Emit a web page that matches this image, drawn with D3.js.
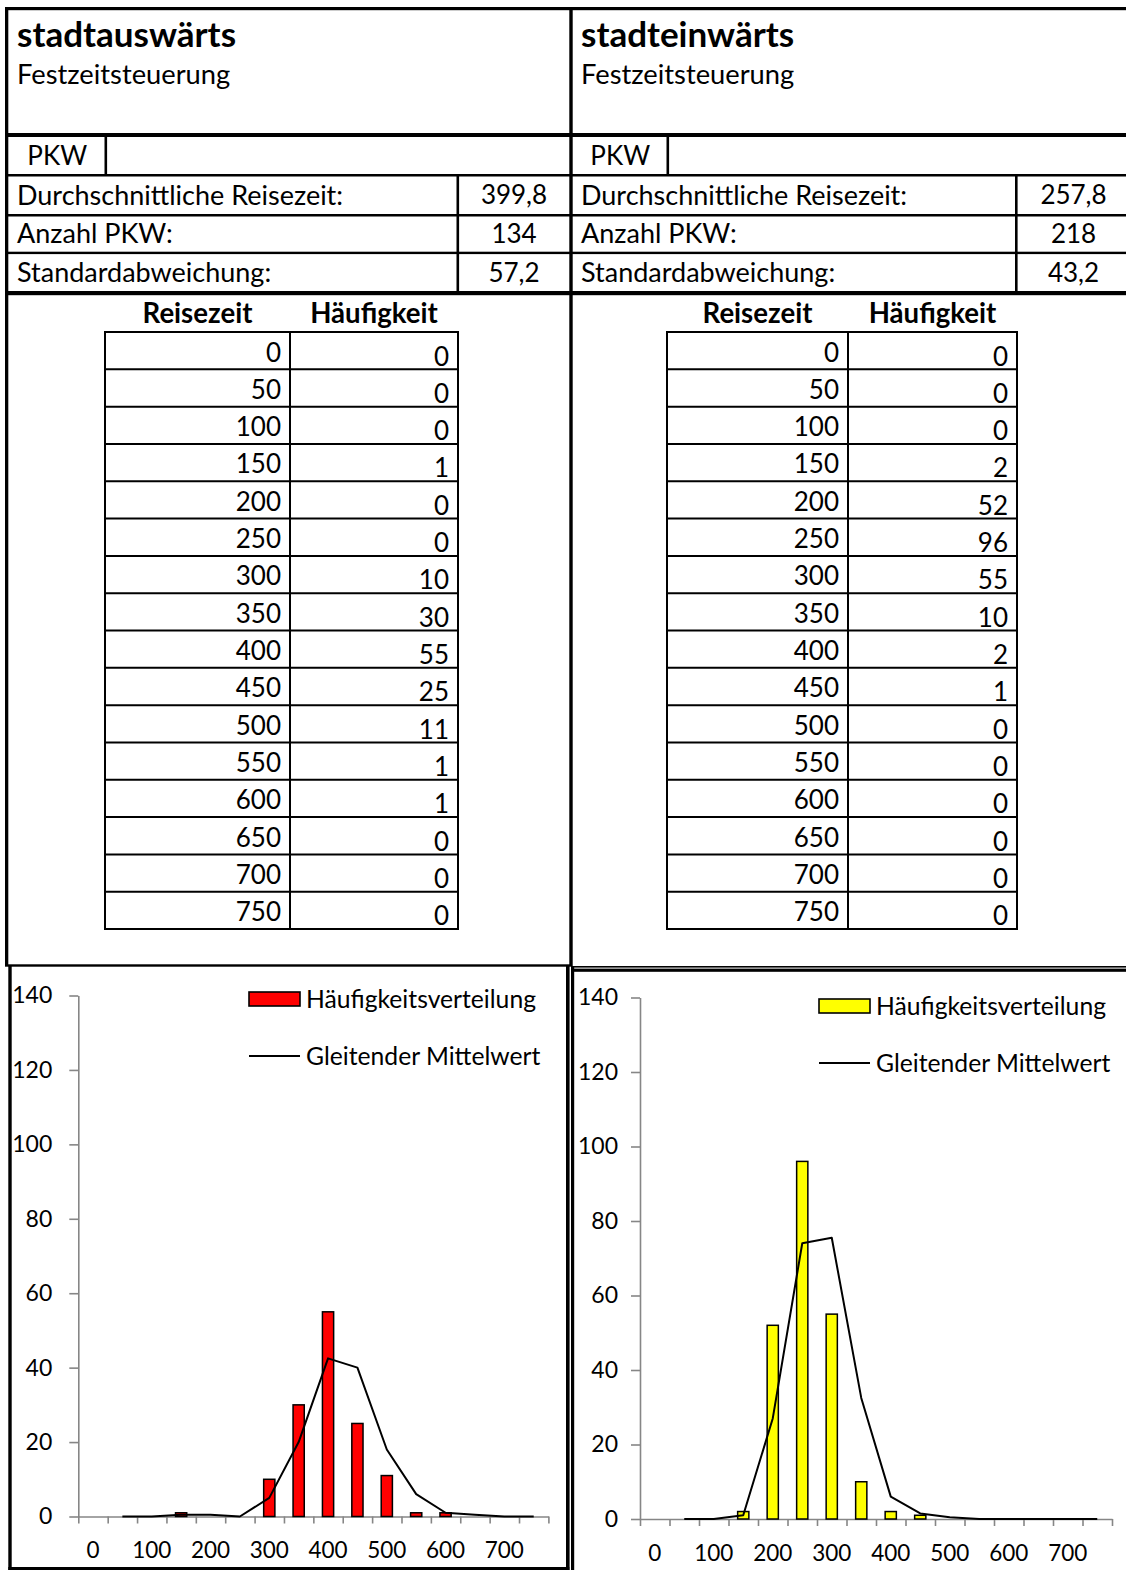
<!DOCTYPE html>
<html>
<head>
<meta charset="utf-8">
<script src="https://cdn.jsdelivr.net/npm/d3@7"></script>
<style>
  html, body { margin: 0; padding: 0; background: #fff; }
  svg { display: block; }
  text { font-family: Lato, "Open Sans", sans-serif; fill: #000; }
</style>
</head>
<body>
<svg id="sheet" width="1126" height="1570"></svg>
<script>
// ---- data -------------------------------------------------------------
const reisezeit = [0, 50, 100, 150, 200, 250, 300, 350, 400, 450, 500, 550, 600, 650, 700, 750];
const haeufigkeitAus = [0, 0, 0, 1, 0, 0, 10, 30, 55, 25, 11, 1, 1, 0, 0, 0];
const haeufigkeitEin = [0, 0, 0, 2, 52, 96, 55, 10, 2, 1, 0, 0, 0, 0, 0, 0];
// moving average over two classes (first class has none)
const mittelwertAus = [null, 0, 0, 0.5, 0.5, 0, 5, 20, 42.5, 40, 18, 6, 1, 0.5, 0, 0];
const mittelwertEin = [null, 0, 0, 1, 27, 74, 75.5, 32.5, 6, 1.5, 0.5, 0, 0, 0, 0, 0];

const titles = ["stadtauswärts", "stadteinwärts"];
const subtitle = "Festzeitsteuerung";
const fahrzeug = "PKW";
const statLabels = ["Durchschnittliche Reisezeit:", "Anzahl PKW:", "Standardabweichung:"];
const statsAus = ["399,8", "134", "57,2"];
const statsEin = ["257,8", "218", "43,2"];
const tableHeads = ["Reisezeit", "Häufigkeit"];
const legendLabels = ["Häufigkeitsverteilung", "Gleitender Mittelwert"];
const yTicks = [0, 20, 40, 60, 80, 100, 120, 140];
const xTickLabels = ["0", "100", "200", "300", "400", "500", "600", "700"];
const barColors = ["#ff0000", "#ffff00"];

// ---- layout -----------------------------------------------------------
const svg = d3.select("#sheet");
const FS = 27;            // body text size
const FN = 26;            // number size
const CAP = 0.72 * FS;    // cap height of body text
const CAPN = 0.72 * FN;

const panels = [
  { title: titles[0], stats: statsAus, freq: haeufigkeitAus, avg: mittelwertAus, color: barColors[0],
    textX: 17, pkwDiv: 104.5, valDiv: 456.5, valCenter: 514,
    tbl: [105, 290, 458],
    chart: { x0: 78.3, x1: 548.4, y0: 1516.5, yTop: 995.5, labelPad: 17,
             legX: 249, legY: 992, legLineY: 1056 } },
  { title: titles[1], stats: statsEin, freq: haeufigkeitEin, avg: mittelwertEin, color: barColors[1],
    textX: 581, pkwDiv: 666.5, valDiv: 1015, valCenter: 1073.5,
    tbl: [667, 848, 1017],
    chart: { x0: 640, x1: 1112, y0: 1519, yTop: 997.5, labelPad: 13,
             legX: 819, legY: 999, legLineY: 1063 } }
];

const frame = svg.append("g").attr("class", "frame");
function box(x, y, w, h, fill) {
  frame.append("rect").attr("x", x).attr("y", y).attr("width", w).attr("height", h)
    .attr("fill", fill || "#000");
}

// outer sheet lines
box(5, 7, 1121, 3.2);          // top
box(5, 7, 3.3, 959);           // left
box(569.3, 7, 3.4, 959);       // centre divider
box(5, 133, 1121, 4);          // below headings
box(5, 174, 1121, 2.5);        // below PKW row
box(5, 214, 1121, 2.5);
box(5, 251.7, 1121, 2.4);
box(5, 291, 1121, 4.2);        // below stats
box(5, 964.3, 566, 2.4);       // table block bottom (left)

// chart frames
box(8.3, 966, 3.4, 604);       // left chart, left edge
box(566, 966, 3.6, 604);       // left chart, right edge
box(8.3, 1567, 561, 3);        // left chart, bottom
box(571, 966, 3.2, 604);       // right chart, left edge
box(571, 966, 555, 1.6);       // right chart, top (double line)
box(571, 968.6, 555, 3.2);

// ---- panels -----------------------------------------------------------
panels.forEach(p => {
  const g = svg.append("g");

  // headings
  g.append("text").attr("x", p.textX).attr("y", 47)
    .style("font-size", "35px").style("font-weight", 700).text(p.title);
  g.append("text").attr("x", p.textX).attr("y", 84)
    .style("font-size", "27.3px").text(subtitle);

  // PKW row
  box(p.pkwDiv, 135, 2.6, 40);
  const pkwLeft = p.textX - 9;
  g.append("text").attr("x", (pkwLeft + p.pkwDiv) / 2 + 1).attr("y", 155.5 + CAPN / 2)
    .attr("text-anchor", "middle").style("font-size", FN + "px").text(fahrzeug);

  // stats rows
  box(p.valDiv, 175, 2.6, 118);
  const rowCenters = [195, 233.5, 272.5];
  statLabels.forEach((lab, i) => {
    g.append("text").attr("x", p.textX).attr("y", rowCenters[i] + CAP / 2)
      .style("font-size", FS + "px").text(lab);
    g.append("text").attr("x", p.valCenter).attr("y", rowCenters[i] + CAPN / 2)
      .attr("text-anchor", "middle").style("font-size", FN + "px").text(p.stats[i]);
  });

  // frequency table
  const [tL, tM, tR] = p.tbl;
  const rowY = d3.scaleLinear().domain([0, reisezeit.length]).range([332, 929]);
  g.append("text").attr("x", (tL + tM) / 2).attr("y", 313 + CAP / 2)
    .attr("text-anchor", "middle").style("font-size", "27.6px").style("font-weight", 700).text(tableHeads[0]);
  g.append("text").attr("x", (tM + tR) / 2).attr("y", 313 + CAP / 2)
    .attr("text-anchor", "middle").style("font-size", "27.6px").style("font-weight", 700).text(tableHeads[1]);

  const tg = g.append("g").attr("fill", "none").attr("stroke", "#000").attr("stroke-width", 2);
  d3.range(reisezeit.length + 1).forEach(i => {
    tg.append("line").attr("x1", tL - 1).attr("x2", tR + 1).attr("y1", rowY(i)).attr("y2", rowY(i));
  });
  [tL, tM, tR].forEach(x => {
    tg.append("line").attr("x1", x).attr("x2", x).attr("y1", rowY(0)).attr("y2", rowY(reisezeit.length));
  });
  reisezeit.forEach((v, i) => {
    const c = (rowY(i) + rowY(i + 1)) / 2;
    g.append("text").attr("x", tM - 9).attr("y", c + CAPN / 2 + 1.5)
      .attr("text-anchor", "end").style("font-size", FN + "px").text(v);
    g.append("text").attr("x", tR - 9).attr("y", c + CAPN / 2 + 5.5)
      .attr("text-anchor", "end").style("font-size", FN + "px").text(p.freq[i]);
  });

  // ---- histogram chart ----
  const c = p.chart;
  const x = d3.scaleBand().domain(reisezeit).range([c.x0, c.x1]);
  const xEdge = d3.scaleLinear().domain([0, reisezeit.length]).range([c.x0, c.x1]);
  const y = d3.scaleLinear().domain([0, 140]).range([c.y0, c.yTop]);
  const cg = g.append("g");
  const axisColor = "#868686";

  // y axis
  const ya = cg.append("g").attr("transform", `translate(${c.x0},0)`)
    .call(d3.axisLeft(y).tickValues(yTicks).tickSize(9).tickSizeOuter(0).tickPadding(c.labelPad));
  ya.selectAll("path,line").attr("stroke", axisColor).attr("stroke-width", 1.6);
  ya.selectAll("text").style("font-size", "23px").style("font-family", "Lato").attr("fill", "#000");

  // x axis: tick marks on class boundaries, labels on every second class
  const xa = cg.append("g").attr("transform", `translate(0,${c.y0})`)
    .call(d3.axisBottom(xEdge).tickValues(d3.range(reisezeit.length + 1)).tickSize(7).tickSizeOuter(0).tickFormat(""));
  xa.selectAll("path,line").attr("stroke", axisColor).attr("stroke-width", 1.6);
  const xl = cg.append("g").attr("transform", `translate(0,${c.y0})`)
    .call(d3.axisBottom(x).tickSize(0).tickPadding(26)
      .tickFormat((d, i) => (i % 2 === 0 ? xTickLabels[i / 2] : "")));
  xl.select("path").remove();
  xl.selectAll("text").style("font-size", "22.5px").style("font-family", "Lato").attr("fill", "#000");

  // bars
  const barW = 11.2;
  cg.append("g").selectAll("rect").data(p.freq).join("rect")
    .attr("x", (d, i) => x(reisezeit[i]) + x.bandwidth() / 2 - barW / 2)
    .attr("y", d => y(d))
    .attr("width", barW)
    .attr("height", d => y(0) - y(d))
    .attr("fill", p.color).attr("stroke", "#000").attr("stroke-width", 1.5);

  // moving average
  const line = d3.line()
    .defined(d => d != null)
    .x((d, i) => x(reisezeit[i]) + x.bandwidth() / 2)
    .y(d => y(d));
  cg.append("path").datum(p.avg).attr("d", line)
    .attr("fill", "none").attr("stroke", "#000").attr("stroke-width", 2).attr("stroke-linejoin", "round");

  // legend
  cg.append("rect").attr("x", c.legX).attr("y", c.legY).attr("width", 51).attr("height", 14)
    .attr("fill", p.color).attr("stroke", "#000").attr("stroke-width", 1.6);
  cg.append("text").attr("x", c.legX + 57).attr("y", c.legY + 7 + 8.8)
    .style("font-size", "24.7px").text(legendLabels[0]);
  cg.append("line").attr("x1", c.legX).attr("x2", c.legX + 51).attr("y1", c.legLineY).attr("y2", c.legLineY)
    .attr("stroke", "#000").attr("stroke-width", 2);
  cg.append("text").attr("x", c.legX + 57).attr("y", c.legLineY + 8.8)
    .style("font-size", "24.7px").text(legendLabels[1]);
});
</script>
</body>
</html>
